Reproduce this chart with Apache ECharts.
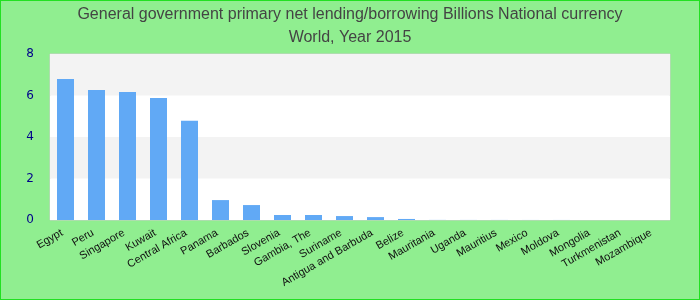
<!DOCTYPE html>
<html><head><meta charset="utf-8">
<script src="https://cdn.jsdelivr.net/npm/echarts@6/dist/echarts.min.js"></script>
<style>html,body{margin:0;padding:0;background:#90ee90}#c{width:700px;height:300px;box-sizing:border-box;border:1px solid #22e022}</style>
</head><body><div id="c"></div>
<script>
const categories = ["Egypt","Peru","Singapore","Kuwait","Central Africa","Panama","Barbados","Slovenia","Gambia, The","Suriname","Antigua and Barbuda","Belize","Mauritania","Uganda","Mauritius","Mexico","Moldova","Mongolia","Turkmenistan","Mozambique"];
const values = [6.8,6.27,6.17,5.88,4.78,0.96,0.72,0.24,0.24,0.19,0.14,0.05,0.004,0.003,0.003,0.002,0.002,0.001,0.001,0.001];
const yTicks = [0,2,4,6,8];
const chart = echarts.init(document.getElementById('c'));
chart.setOption({
  backgroundColor: '#90ee90',
  animation: false,
  title: {
    text: 'General government primary net lending/borrowing Billions National currency\nWorld, Year 2015',
    left: 'center', top: -3,
    textStyle: {color: '#444', fontSize: 16, fontWeight: 'normal', fontFamily: 'Liberation Sans, Arial', lineHeight: 23}
  },
  grid: {left: 49, right: 29, top: 53, bottom: 79, show: true, backgroundColor: '#fff', borderColor: '#ccc', borderWidth: 1},
  xAxis: {
    type: 'category', data: categories,
    axisLine: {show: false}, axisTick: {show: false},
    axisLabel: {rotate: 30, interval: 0, color: '#111', fontSize: 11, fontFamily: 'Liberation Sans, Arial', margin: 10, padding: [0, 4, 0, 0]}
  },
  yAxis: {
    type: 'value', min: 0, max: 8, interval: 2,
    axisLine: {show: false}, axisTick: {show: false},
    splitLine: {show: false},
    splitArea: {show: true, areaStyle: {color: ['#ffffff', '#f3f3f3']}},
    axisLabel: {color: '#00008b', fontSize: 12, fontFamily: 'DejaVu Sans, sans-serif', margin: 16,
      formatter: v => yTicks.includes(v) ? String(v) : ''}
  },
  series: [{type: 'bar', data: values, barWidth: 17, itemStyle: {color: '#61a9f5'}}]
});
</script></body></html>
